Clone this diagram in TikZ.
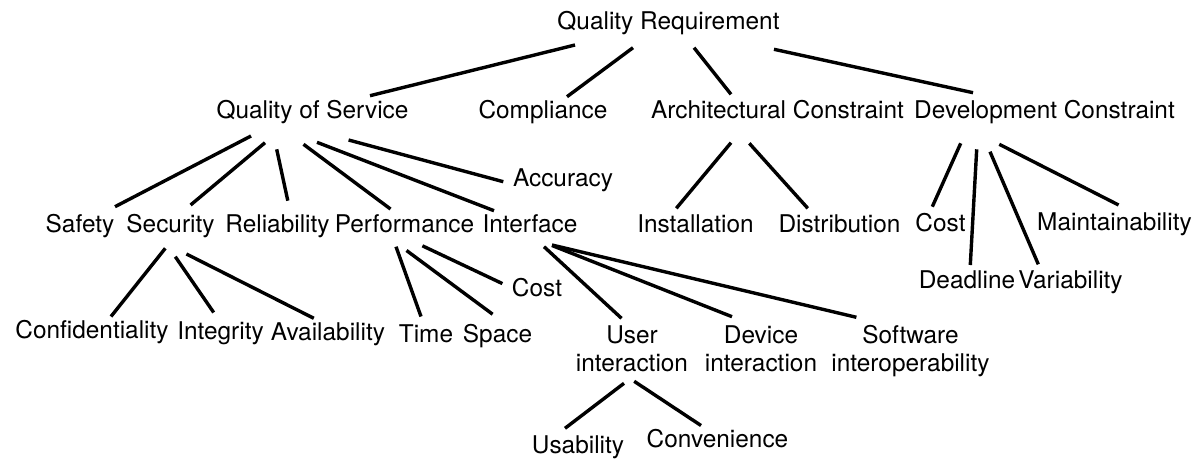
\documentclass[tikz,border=0pt]{standalone}
\usepackage{fontspec}
\setmainfont{TeX Gyre Heros}
\tikzset{
  lbl/.style={anchor=base, inner sep=0pt, outer sep=0pt,
              font=\fontsize{24.4}{28}\selectfont},
  branch/.style={line width=3.4pt, black}
}
% connector between two labels, each end given as an offset from the label's base point
\newcommand\tie[4]{\draw[branch] ([shift={#2}]#1.base) -- ([shift={#4}]#3.base);}
\newcommand\twolines[2]{\begin{tabular}[t]{@{}c@{}}#1\\#2\end{tabular}}
\begin{document}
\begin{tikzpicture}[x=1pt, y=-1pt]
  \fill[white] (0,0) rectangle (1194,458);
  \useasboundingbox (0,0) rectangle (1194,458);

  % root
  \node[lbl] (qr) at (668.5,29) {Quality Requirement};

  % first level
  \node[lbl] (qos)  at (312.5,118) {Quality of Service};
  \node[lbl] (comp) at (543,118)   {Compliance};
  \node[lbl] (arch) at (777.5,118) {Architectural Constraint};
  \node[lbl] (dev)  at (1044.5,118) {Development Constraint};

  % quality of service
  \node[lbl] (acc)   at (563,186)   {Accuracy};
  \node[lbl] (saf)   at (80,232)    {Safety};
  \node[lbl] (sec)   at (170.5,232) {Security};
  \node[lbl] (rel)   at (277.5,232) {Reliability};
  \node[lbl] (perf)  at (404.5,232) {Performance};
  \node[lbl] (intf)  at (530,232)   {Interface};

  % architectural constraint
  \node[lbl] (inst)  at (695.5,232) {Installation};
  \node[lbl] (dist)  at (839.5,232) {Distribution};

  % development constraint
  \node[lbl] (dcost) at (940.5,231) {Cost};
  \node[lbl] (maint) at (1114.5,230) {Maintainability};
  \node[lbl] (dead)  at (967,288)   {Deadline};
  \node[lbl] (var)   at (1070.5,288) {Variability};

  % security
  \node[lbl] (conf)  at (92,338)    {Confidentiality};
  \node[lbl] (integ) at (220.5,339) {Integrity};
  \node[lbl] (avail) at (328,340)   {Availability};

  % performance
  \node[lbl] (pcost) at (537,296)   {Cost};
  \node[lbl] (time)  at (426,342)   {Time};
  \node[lbl] (space) at (497.5,342) {Space};

  % interface
  \node[lbl] (user)  at (632,343)   {\twolines{User}{interaction}};
  \node[lbl] (dev2)  at (761,343)   {\twolines{Device}{interaction}};
  \node[lbl] (soft)  at (910.5,343) {\twolines{Software}{interoperability}};

  % user interaction
  \node[lbl] (usab)  at (578,453)   {Usability};
  \node[lbl] (conv)  at (717.5,447) {Convenience};

  % connectors
  \tie{qr}{(-93.5,16)}{qos}{(57.5,-22.3)}
  \tie{qr}{(-35.5,18.7)}{comp}{(24,-21.3)}
  \tie{qr}{(25.5,18.7)}{arch}{(-46.5,-23.7)}
  \tie{qr}{(105.5,20.3)}{dev}{(-71.5,-25.3)}

  \tie{qos}{(-61.5,18)}{saf}{(35,-25.3)}
  \tie{qos}{(-47.5,24.7)}{sec}{(20.1,-27)}
  \tie{qos}{(-35.8,31.3)}{rel}{(10.3,-31.3)}
  \tie{qos}{(-9,26.3)}{perf}{(-14,-23)}
  \tie{qos}{(4.5,24.3)}{intf}{(-36,-21.3)}
  \tie{qos}{(36.1,22)}{acc}{(-59.7,-4.3)}

  \tie{sec}{(-5.2,16.3)}{conf}{(19,-21.5)}
  \tie{sec}{(4.8,24.7)}{integ}{(-6.8,-26.5)}
  \tie{sec}{(15.9,22)}{avail}{(-14.2,-21.7)}

  \tie{perf}{(-8.5,14.7)}{time}{(-5,-25.5)}
  \tie{perf}{(2,18.5)}{space}{(-4.9,-27.8)}
  \tie{perf}{(17.9,13.8)}{pcost}{(-34.6,-12.4)}

  \tie{intf}{(14,14.7)}{user}{(-10.5,-24.7)}
  \tie{intf}{(22,13.5)}{dev2}{(-29,-26.3)}
  \tie{intf}{(22,13)}{soft}{(-54.1,-25.7)}

  \tie{user}{(-8,40.3)}{usab}{(-13,-24.7)}
  \tie{user}{(2.2,38.3)}{conv}{(-16.5,-21.5)}

  \tie{arch}{(-46.5,24.7)}{inst}{(-19.2,-23.7)}
  \tie{arch}{(-28.2,25.3)}{dist}{(-31.7,-23.7)}

  \tie{dev}{(-83.8,25.3)}{dcost}{(-8.2,-24.3)}
  \tie{dev}{(-67.8,31.3)}{dead}{(3.3,-23)}
  \tie{dev}{(-54.5,33.7)}{var}{(-32.2,-23.7)}
  \tie{dev}{(-45.2,26.3)}{maint}{(4.1,-25)}
\end{tikzpicture}
\end{document}
